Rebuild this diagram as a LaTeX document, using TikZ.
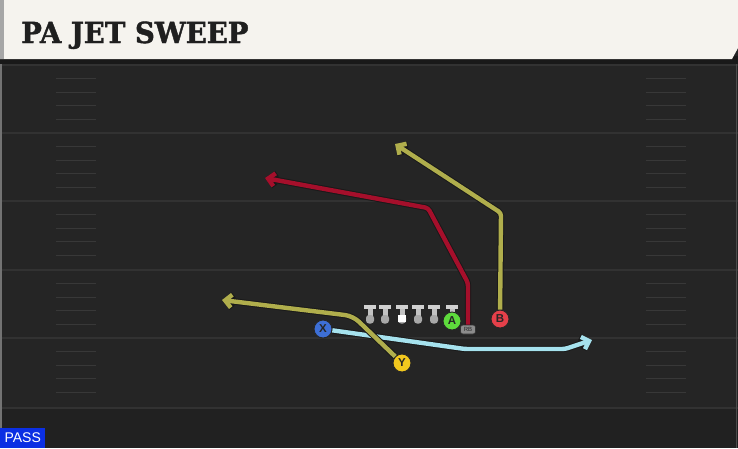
\documentclass[tikz,border=0pt]{standalone}
\usepackage{fontspec}
\setmainfont{Liberation Sans}
\newfontfamily\slabfont{DejaVu Serif Bold}[FakeBold=1.5]
\usetikzlibrary{arrows.meta}
\usetikzlibrary{bending}
\definecolor{turf}{HTML}{252525}
\definecolor{turfdark}{HTML}{212121}
\definecolor{turfline}{HTML}{323232}
\definecolor{hashgray}{HTML}{383838}
\definecolor{paper}{HTML}{F5F3EE}
\definecolor{crimson}{HTML}{A50F2B}
\definecolor{olive}{HTML}{B0AE4C}
\definecolor{skyblue}{HTML}{A6E2EE}
\definecolor{passblue}{HTML}{0B2FE3}
\definecolor{xblue}{HTML}{3D6FD6}
\definecolor{yyellow}{HTML}{F2C81E}
\definecolor{agreen}{HTML}{5EDB3C}
\definecolor{bred}{HTML}{E5404A}
\tikzset{
  player/.style={circle, draw=black!85, line width=0.9pt, minimum size=18pt,
    inner sep=0pt, font=\bfseries\fontsize{11.5}{11.5}\selectfont, text=black!85},
  rbtag/.style={rounded corners=2.5pt, fill=black!45, draw=black!80, line width=0.6pt,
    minimum width=15pt, minimum height=9pt, inner sep=0pt,
    font=\fontsize{6}{6}\selectfont, text=black!85},
  route/.style={line width=4.4pt, rounded corners=3pt,
    preaction={draw=black!90, line width=6.4pt},
    -{Straight Barb[length=6.5pt, width=13pt]}}
}

\begin{document}
\begin{tikzpicture}[x=1pt, y=-1pt]
\useasboundingbox (0,0) rectangle (738,448);
% field
\fill[turf] (0,0) rectangle (738,408);
\fill[turfdark] (0,408) rectangle (738,448);
\foreach \yl in {65,133,201,270,338,408} {
    \draw[turfline, line width=1.6pt] (0,\yl) -- (738,\yl);
}
% hash marks
\foreach \yl in {65,133,201,270,338} {
  \foreach \k in {1,...,4} {
    \draw[hashgray, line width=1.1pt] (56,\yl+\k*13.6) -- (96,\yl+\k*13.6);
    \draw[hashgray, line width=1.1pt] (646,\yl+\k*13.6) -- (686,\yl+\k*13.6);
  }
}
\draw[black!55, line width=1.5pt] (1,59) -- (1,448);
\draw[black!70, line width=1pt] (736.5,59) -- (736.5,448);
% header
\fill[black!90] (0,56) rectangle (738,64);
\fill[paper] (0,0) -- (738,0) -- (738,48) -- (732,59) -- (0,59) -- cycle;
\fill[black!35] (0,0) rectangle (4,59);
\node[anchor=base west, inner sep=0pt, text=black!88,
  font=\slabfont\fontsize{29}{29}\selectfont] (title) at (21,43)
  {\scalebox{0.95}[1]{PA JET SWEEP}};
\node[anchor=south west, fill=passblue, text=white, minimum width=45pt, minimum height=20pt,
  inner sep=0pt, font=\fontsize{14}{14}\selectfont] (pass) at (0,448) {PASS};
% line
\foreach \xl in {370,385,402,418,434,452} {
    \fill[black!18] (\xl-6,305) rectangle (\xl+6,309);
    \fill[black!24] (\xl-2.5,309) rectangle (\xl+2.5,316);
    \fill[black!34, rounded corners=3pt] (\xl-4,315) rectangle (\xl+4,323.5);
}
\fill[white] (398,314.5) rectangle (406,321.5);
% players
\node[player, fill=xblue] (x) at (323,329) {X};
\node[player, fill=yyellow] (y) at (402,363) {Y};
\node[player, fill=agreen] (a) at (452,321) {A};
\node[player, fill=bred] (b) at (500,319) {B};
\node[rbtag] (rb) at (468,329.5) {RB};
% routes
\coordinate (x1) at (465,349);
\coordinate (x2) at (565,349);
\coordinate (x3) at (592,340);
\draw[route, skyblue] (x) -- (x1) -- (x2) -- (x3);
\coordinate (y1) at (353,316);
\coordinate (y2) at (222,300);
\draw[route, olive, rounded corners=8pt] (y) -- (y1) -- (y2);
\coordinate (r1) at (468,283);
\coordinate (r2) at (428,208);
\coordinate (r3) at (265,178);
\draw[route, crimson] (rb) -- (r1) -- (r2) -- (r3);
\coordinate (b1) at (501,213);
\coordinate (b2) at (395,144);
\draw[route, olive] (b) -- (b1) -- (b2);
\end{tikzpicture}
\end{document}
